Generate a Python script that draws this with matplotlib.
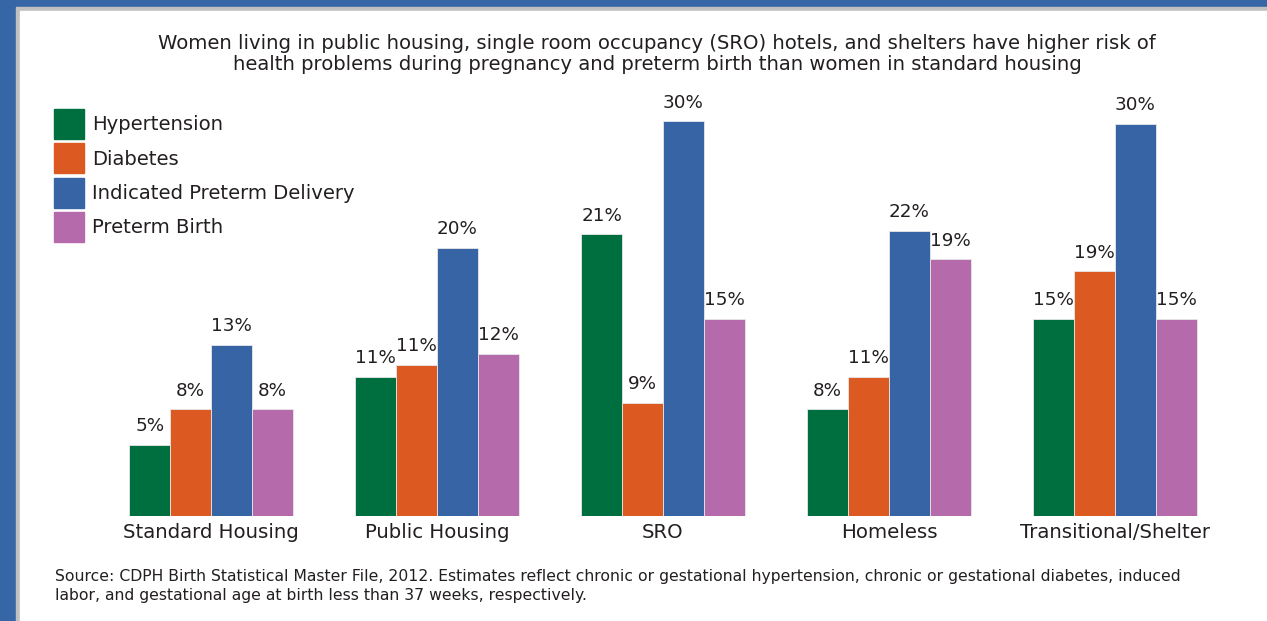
import matplotlib.pyplot as plt
from matplotlib.patches import Rectangle
import numpy as np

plt.rcParams['font.family'] = ['DejaVu Sans']

groups = ['Standard Housing', 'Public Housing', 'SRO', 'Homeless', 'Transitional/Shelter']
series = ['Hypertension', 'Diabetes', 'Indicated Preterm Delivery', 'Preterm Birth']
colors = ['#006f3f', '#dc5a21', '#3664a4', '#b56aab']

# values, labels as printed
hypertension = [5.4, 10.6, 21.4, 8.1, 15.0]
diabetes = [8.1, 11.5, 8.6, 10.6, 18.6]
indicated = [13.0, 20.4, 30.0, 21.7, 29.8]
preterm = [8.1, 12.3, 15.0, 19.5, 15.0]

hyp_lbl = ['5%', '11%', '21%', '8%', '15%']
dia_lbl = ['8%', '11%', '9%', '11%', '19%']
ind_lbl = ['13%', '20%', '30%', '22%', '30%']
pre_lbl = ['8%', '12%', '15%', '19%', '15%']

values = [hypertension, diabetes, indicated, preterm]
labels = [hyp_lbl, dia_lbl, ind_lbl, pre_lbl]

W, H = 1267, 621
fig = plt.figure(figsize=(W / 100, H / 100), dpi=100)

# frame: blue band, grey line, white panel
fig.patches.append(Rectangle((0, 0), 1, 1, transform=fig.transFigure, color='#3766a6', zorder=-3))
fig.patches.append(Rectangle((16 / W, 0), 1, 1 - 7 / H, transform=fig.transFigure, color='#c0c0c0', zorder=-2))
fig.patches.append(Rectangle((20 / W, 0), 1, 1 - 11 / H, transform=fig.transFigure, color='white', zorder=-1))

left, right, base, top = 98, 1228, 516, 95
ax = fig.add_axes([left / W, (H - base) / H, (right - left) / W, (base - top) / H])
ax.set_xlim(-0.5, 4.5)
ax.set_ylim(0, 32)
ax.axis('off')
ax.patch.set_alpha(0)

x = np.arange(len(groups))
bw = 0.181
for i in range(4):
    pos = x + (i - 1.5) * bw
    ax.bar(pos, values[i], bw, color=colors[i], edgecolor='#e8e8e8', linewidth=0.6)
    for p, v, t in zip(pos, values[i], labels[i]):
        ax.annotate(t, (p, v), xytext=(0, 7), textcoords='offset points',
                    ha='center', va='bottom', fontsize=13.2, color='#231f20')

for xi, g in zip(x, groups):
    ax.annotate(g, (xi, 0), xytext=(0, -5), textcoords='offset points',
                ha='center', va='top', fontsize=14.2, color='#231f20')

fig.text(657 / W, 1 - 54 / H,
         'Women living in public housing, single room occupancy (SRO) hotels, and shelters have higher risk of\n'
         'health problems during pregnancy and preterm birth than women in standard housing',
         ha='center', va='center', fontsize=14.1, color='#231f20', linespacing=1.15)

for i, s in enumerate(series):
    yc = 124 + i * 34.3
    fig.patches.append(Rectangle((54 / W, 1 - (yc + 15) / H), 30 / W, 30 / H,
                                 transform=fig.transFigure, color=colors[i]))
    fig.text(92 / W, 1 - (yc + 1) / H, s, ha='left', va='center', fontsize=14.1, color='#231f20')

fig.text(55 / W, 1 - 586 / H,
         'Source: CDPH Birth Statistical Master File, 2012. Estimates reflect chronic or gestational hypertension, chronic or gestational diabetes, induced\n'
         'labor, and gestational age at birth less than 37 weeks, respectively.',
         ha='left', va='center', fontsize=11.25, color='#231f20', linespacing=1.32)

fig.savefig('out.png', dpi=100)
